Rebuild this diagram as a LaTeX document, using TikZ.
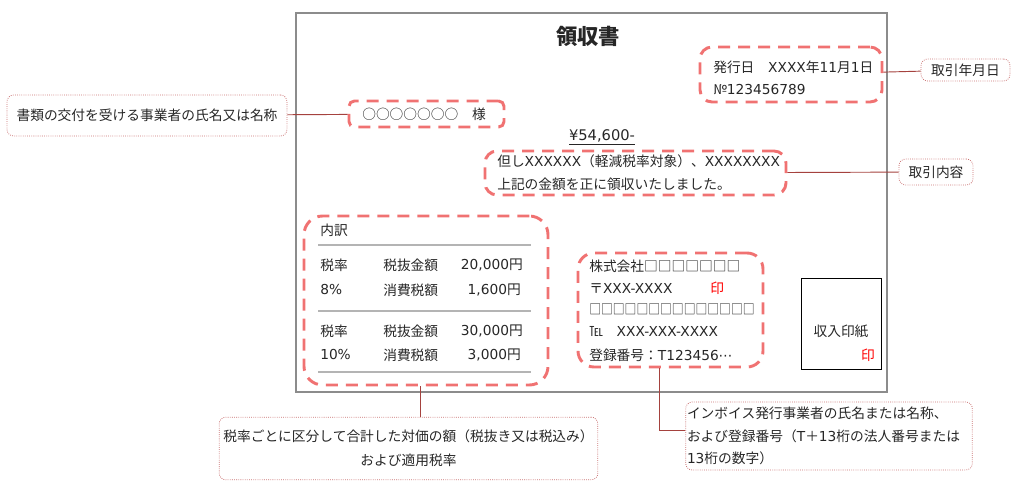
\documentclass[tikz,border=0pt]{standalone}
\usepackage{fontspec}
\setmainfont{Noto Sans CJK JP}
\newfontfamily\latfont{DejaVu Sans}
\newcommand\asc[1]{{\latfont#1}}
\usetikzlibrary{fit}

\definecolor{markred}{HTML}{F07272}
\definecolor{tagred}{HTML}{C86E6E}
\definecolor{linkred}{HTML}{A5423E}
\definecolor{framegray}{HTML}{8C8C8C}
\definecolor{rulegray}{HTML}{B4B4B4}
\definecolor{inkgray}{HTML}{262626}

\begin{document}
\begin{tikzpicture}[x=0.75pt,y=-0.75pt,
  every node/.style={font=\fontsize{10.3}{12}\selectfont, text=inkgray},
  txt/.style={inner sep=0pt, anchor=west},
  num/.style={inner sep=0pt, anchor=east},
  hilite/.style={draw=markred, line width=2.2pt, dash pattern=on 9pt off 6pt, rounded corners=9pt, inner sep=0pt},
  tag/.style={draw=tagred, densely dotted, line width=0.6pt, rounded corners=5pt, align=center},
  link/.style={draw=linkred, line width=0.7pt},
  rule/.style={draw=rulegray, line width=1.1pt}]
\useasboundingbox (0,0) rectangle (1024,488);

\node (doc) [draw=framegray, line width=0.8pt, inner sep=0pt, fit={(296,13) (887,392)}] {};
\node (title) [font=\bfseries\fontsize{16}{18}\selectfont] at (588,36) {領収書};

\node (issue) [hilite, fit={(700,47) (882,102)}] {};
\node [txt] at (713,67) {発行日　\asc{XXXX}年\asc{11}月\asc{1}日};
\node [txt] at (713,90) {№\asc{123456789}};

\node (name) [hilite, rounded corners=4pt, fit={(349,101) (504,127)}] {};
\node [txt] at (362,114) {○○○○○○○　様};

\node (amount) [font=\latfont\fontsize{11}{13}\selectfont] at (602,137) {\underline{¥54,600-}};

\node (content) [hilite, fit={(485,151) (786,195)}] {};
\node [txt] at (497,161) {但し\asc{XXXXXX}（軽減税率対象）、\asc{XXXXXXXX}};
\node [txt] at (497,184) {上記の金額を正に領収いたしました。};

\node (brk) [hilite, rounded corners=14pt, fit={(304,216) (548,385)}] {};
\node [txt] at (320,230) {内訳};
\draw [rule] (318,245) -- (531,245);
\node [txt] at (320,265) {税率};
\node [txt] at (383,265) {税抜金額};
\node [num] at (523,265) {\asc{20,000}円};
\node [txt] at (320,290) {\asc{8\%}};
\node [txt] at (383,290) {消費税額};
\node [num] at (521,290) {\asc{1,600}円};
\draw [rule] (318,311) -- (531,311);
\node [txt] at (320,331) {税率};
\node [txt] at (383,331) {税抜金額};
\node [num] at (523,331) {\asc{30,000}円};
\node [txt] at (320,355) {\asc{10\%}};
\node [txt] at (383,355) {消費税額};
\node [num] at (521,355) {\asc{3,000}円};
\draw [rule] (318,372) -- (531,372);

\node (co) [hilite, rounded corners=12pt, fit={(578,253) (763,367)}] {};
\node [txt] at (589,266) {株式会社□□□□□□□};
\node [txt] at (589,288) {〒\asc{XXX-XXXX}};
\node [txt, text=red] at (710,288) {印};
\node [txt] at (589,309) {\scalebox{0.86}[1]{□□□□□□□□□□□□□□}};
\node [txt] at (589,331) {℡　\asc{XXX-XXX-XXXX}};
\node [txt] at (589,355) {登録番号：\asc{T123456⋯}};

\node (stamp) [draw=black, line width=0.7pt, inner sep=0pt, fit={(801,278) (881,369)}] {};
\node at (841,331) {収入印紙};
\node [text=red] at (868,355) {印};

\node (tDate) [tag, minimum width=66.75pt, minimum height=16.5pt] at (965.5,70) {取引年月日};
\node (tCont) [tag, minimum width=55.5pt, minimum height=19.5pt] at (936,172) {取引内容};
\node (tName) [tag, minimum width=210pt, minimum height=30.75pt] at (147,115.5) {書類の交付を受ける事業者の氏名又は名称};
\node (tTax) [tag, minimum width=284pt, minimum height=47pt, inner xsep=0pt] at (408.5,448.5) {税率ごとに区分して合計した対価の額（税抜き又は税込み）\\[6pt]および適用税率};
\node (tInv) [tag, align=left, text width=213pt, minimum height=51pt, inner xsep=1pt] at (829,436) {インボイス発行事業者の氏名または名称、\\[5pt]および登録番号（\asc{T}＋\asc{13}桁の法人番号または\\[5pt]\asc{13}桁の数字）};

\draw [link] (tName) -- (name);
\draw [link] (issue) -- (tDate);
\draw [link] (content) -- (tCont);
\draw [link] ([xshift=-4.5pt]brk.south) -- ([xshift=-4.5pt]brk.south |- tTax.north);
\draw [link] ([xshift=-8pt]co.south) |- ([yshift=4.5pt]tInv.west);
\end{tikzpicture}
\end{document}
